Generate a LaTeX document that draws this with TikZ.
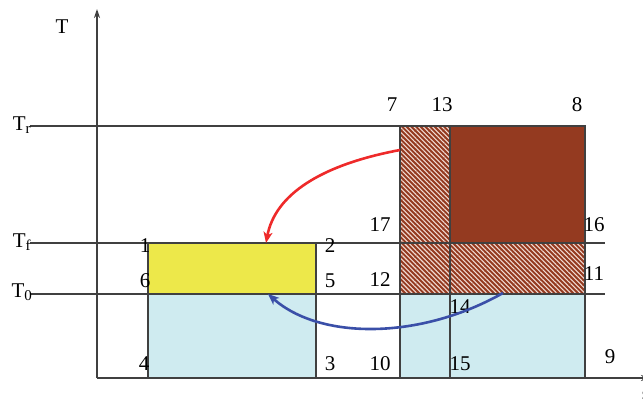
\documentclass[tikz,border=0pt]{standalone}
\usepackage{fontspec}
\setmainfont{Liberation Serif}
\usetikzlibrary{arrows.meta,patterns.meta}
\definecolor{lnc}{HTML}{404040}
\definecolor{yelc}{HTML}{EDE84A}
\definecolor{lbluec}{HTML}{CFEBF0}
\definecolor{brnc}{HTML}{943A20}
\definecolor{strpc}{HTML}{F2DCD4}
\definecolor{rarrc}{HTML}{EE2A2A}
\definecolor{barrc}{HTML}{3A4FA8}
\tikzset{
  numlab/.style={inner sep=0pt, font=\fontsize{21}{22}\selectfont},
  ln/.style={draw=lnc, line width=1.3pt},
  hatch/.style={fill=brnc, postaction={pattern={Lines[angle=-45,distance=3.3pt,line width=1.1pt]}, pattern color=strpc}},
  flow/.style={line width=2.6pt, -{Stealth[length=11pt,width=9pt,inset=3pt]}}
}
\begin{document}
\begin{tikzpicture}[x=1pt,y=-1pt]
\useasboundingbox (0,0) rectangle (643,399);
% fills
\fill[yelc] (148,243) rectangle (316,294);
\fill[lbluec] (148,294) rectangle (316,378);
\fill[lbluec] (400,294) rectangle (585,378);
\path[hatch] (400,126) rectangle (450,243);
\path[hatch] (400,243) rectangle (585,294);
\fill[brnc] (450,126) rectangle (585,243);
% level lines
\draw[ln] (30,126) -- (400,126);
\draw[ln] (30,243) -- (605,243);
\draw[ln] (30,294) -- (605,294);
% rectangles outlines
\draw[ln] (148,243) rectangle (316,378);
\draw[ln] (400,126) rectangle (585,378);
\draw[ln] (450,126) -- (450,378);
% axes
\draw[ln, -{Stealth[length=9pt,width=6pt]}] (97,378) -- (97,9);
\draw[ln, -{Stealth[length=9pt,width=6pt]}] (97,378) -- (650,378);
% axis labels
\node[numlab] (tT) at (62,27) {T};
\node[numlab] (tS) at (646,396) {s};
\node[numlab] (tr) at (22,125) {T\textsubscript{\fontsize{15}{16}\selectfont r}};
\node[numlab] (tf) at (22,242) {T\textsubscript{\fontsize{15}{16}\selectfont f}};
\node[numlab] (t0) at (22,292) {T\textsubscript{\fontsize{15}{16}\selectfont 0}};
% point labels
\node[numlab] (p1) at (145,246) {1};
\node[numlab] (p2) at (330,246) {2};
\node[numlab] (p3) at (330,364) {3};
\node[numlab] (p4) at (144,364) {4};
\node[numlab] (p5) at (330,281) {5};
\node[numlab] (p6) at (145,281) {6};
\node[numlab] (p7) at (392,105) {7};
\node[numlab] (p8) at (577,105) {8};
\node[numlab] (p9) at (610,357) {9};
\node[numlab] (p10) at (380,364) {10};
\node[numlab] (p11) at (594,274) {11};
\node[numlab] (p12) at (380,280) {12};
\node[numlab] (p13) at (442,105) {13};
\node[numlab] (p14) at (460,307) {14};
\node[numlab] (p15) at (460,364) {15};
\node[numlab] (p16) at (594,225) {16};
\node[numlab] (p17) at (380,225) {17};
% arrows
\coordinate (ra) at (400,150);
\coordinate (rb) at (266,243);
\coordinate (ba) at (503,293);
\coordinate (bb) at (268,294);
\draw[flow, rarrc] (ra) .. controls (320,165) and (275,195) .. (rb);
\draw[flow, barrc] (ba) .. controls (420,340) and (320,340) .. (bb);
\end{tikzpicture}
\end{document}
